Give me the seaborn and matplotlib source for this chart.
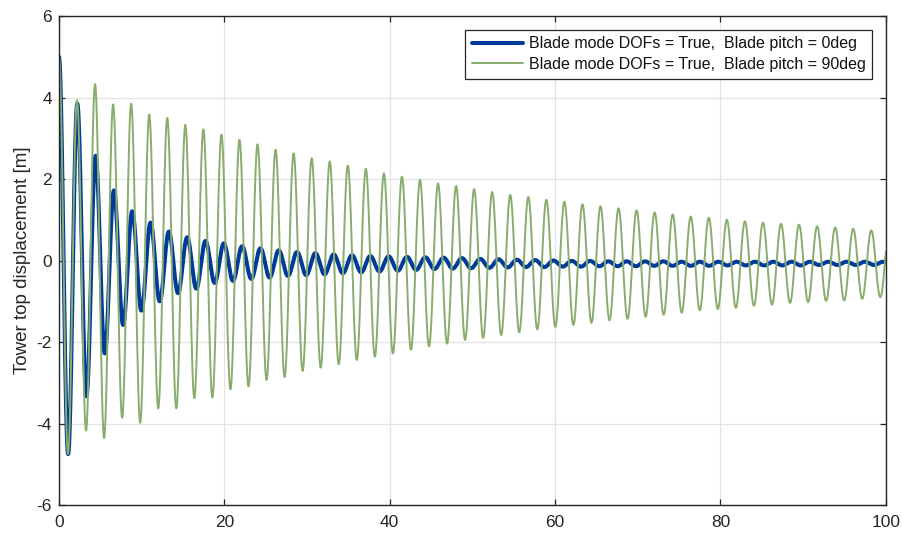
import numpy as np
import pandas as pd
import matplotlib
matplotlib.use("Agg")
import matplotlib.pyplot as plt
import seaborn as sns

# Oscillation period of each run [s]
period_pitch0 = 2.215
period_pitch90 = 2.183

# Successive crest / trough values of the tower-top displacement [m]
crests_pitch0 = [5.0, 3.85, 2.57, 1.72, 1.21, 0.93, 0.71, 0.57, 0.48, 0.42,
                 0.35, 0.30, 0.25, 0.21, 0.18, 0.15, 0.13, 0.11, 0.10, 0.09,
                 0.08, 0.07, 0.06, 0.04, 0.03, 0.02, 0.01, 0.0, -0.01, -0.01,
                 -0.02, -0.02, -0.02, -0.02, -0.03, -0.03, -0.03, -0.03, -0.03, -0.03,
                 -0.03, -0.03, -0.03, -0.03, -0.03, -0.03]
troughs_pitch0 = [-4.75, -3.33, -2.28, -1.58, -1.23, -1.0, -0.8, -0.69, -0.55, -0.5,
                  -0.45, -0.42, -0.38, -0.36, -0.34, -0.31, -0.29, -0.27, -0.25, -0.23,
                  -0.21, -0.2, -0.19, -0.18, -0.17, -0.16, -0.16, -0.15, -0.15, -0.14,
                  -0.14, -0.14, -0.13, -0.13, -0.13, -0.13, -0.12, -0.12, -0.12, -0.12,
                  -0.12, -0.11, -0.11, -0.11, -0.11, -0.11]
crests_pitch90 = [5.0, 3.93, 4.33, 3.83, 3.85, 3.58, 3.5, 3.33, 3.22, 3.09,
                  2.96, 2.85, 2.72, 2.63, 2.51, 2.43, 2.33, 2.25, 2.14, 2.06,
                  1.98, 1.89, 1.83, 1.75, 1.68, 1.61, 1.56, 1.49, 1.44, 1.38,
                  1.33, 1.28, 1.23, 1.18, 1.13, 1.08, 1.05, 1.0, 0.96, 0.93,
                  0.9, 0.88, 0.84, 0.81, 0.78, 0.74, 0.72]
troughs_pitch90 = [-4.75, -4.17, -4.36, -3.86, -3.98, -3.63, -3.63, -3.38, -3.36, -3.16,
                   -3.09, -2.93, -2.86, -2.71, -2.63, -2.55, -2.44, -2.36, -2.28, -2.19,
                   -2.11, -2.04, -1.95, -1.9, -1.83, -1.76, -1.69, -1.63, -1.58, -1.53,
                   -1.47, -1.43, -1.38, -1.33, -1.28, -1.22, -1.19, -1.16, -1.11, -1.08,
                   -1.04, -1.02, -0.99, -0.98, -0.94, -0.9]

series_labels = ["Blade mode DOFs = True,  Blade pitch = 0deg",
                 "Blade mode DOFs = True,  Blade pitch = 90deg"]
x_ticks = [0, 20, 40, 60, 80, 100]
y_ticks = [-6, -4, -2, 0, 2, 4, 6]


def trace(period, crests, troughs, n=40):
    """Smooth time history passing through alternating crests and troughs."""
    t_ext, v_ext = [], []
    for k, c in enumerate(crests):
        t_ext.append(k * period)
        v_ext.append(c)
        if k < len(troughs):
            t_ext.append((k + 0.5) * period)
            v_ext.append(troughs[k])
    ts, vs = [], []
    s = np.linspace(0.0, 1.0, n, endpoint=False)
    for i in range(len(t_ext) - 1):
        ts.append(t_ext[i] + s * (t_ext[i + 1] - t_ext[i]))
        vs.append(v_ext[i] + (v_ext[i + 1] - v_ext[i]) * (1 - np.cos(np.pi * s)) / 2)
    ts.append([t_ext[-1]])
    vs.append([v_ext[-1]])
    return np.concatenate(ts), np.concatenate(vs)


t0, y0 = trace(period_pitch0, crests_pitch0, troughs_pitch0)
t90, y90 = trace(period_pitch90, crests_pitch90, troughs_pitch90)
df = pd.concat([
    pd.DataFrame({"t": t0, "disp": y0, "case": series_labels[0]}),
    pd.DataFrame({"t": t90, "disp": y90, "case": series_labels[1]}),
], ignore_index=True)

sns.set_theme(style="white")
plt.rcParams["font.family"] = ["Liberation Sans", "DejaVu Sans"]
plt.rcParams["axes.unicode_minus"] = False

fig = plt.figure(figsize=(9.03, 5.34), dpi=100)
ax = fig.add_axes([0.0653, 0.0543, 0.9157, 0.9157])

palette = {series_labels[0]: "#003a9b", series_labels[1]: "#88ad6c"}
sizes = {series_labels[0]: 2.9, series_labels[1]: 1.4}
sns.lineplot(data=df, x="t", y="disp", hue="case", size="case",
             palette=palette, sizes=sizes, estimator=None, sort=False,
             ax=ax, legend=False)

ax.set_xlim(0, 100)
ax.set_ylim(-6, 6)
ax.set_xticks(x_ticks)
ax.set_yticks(y_ticks)
ax.set_xlabel("")
ax.set_ylabel("Tower top displacement [m]", fontsize=13.5, color="#262626", labelpad=4)
ax.grid(True, color="#e3e3e3", linewidth=0.9)
ax.set_axisbelow(True)
for sp in ax.spines.values():
    sp.set_color("#262626")
    sp.set_linewidth(1.0)
ax.tick_params(axis="both", which="both", direction="in", length=4.5, width=0.9,
               color="#262626", labelcolor="#262626", labelsize=12.5,
               top=True, right=True, bottom=True, left=True)
ax.tick_params(axis="x", pad=7)
ax.tick_params(axis="y", pad=5)

handles = [plt.Line2D([], [], color=palette[l], lw=sizes[l]) for l in series_labels]
leg = ax.legend(handles, series_labels, loc="upper right", fontsize=11.5,
                frameon=True, fancybox=False, shadow=False, framealpha=1,
                edgecolor="#262626", borderaxespad=0.85, handlelength=3.2,
                handletextpad=0.35, borderpad=0.42, labelspacing=0.36)
leg.get_frame().set_linewidth(0.9)
for txt in leg.get_texts():
    txt.set_color("#111111")

fig.savefig("out.png", dpi=100)
